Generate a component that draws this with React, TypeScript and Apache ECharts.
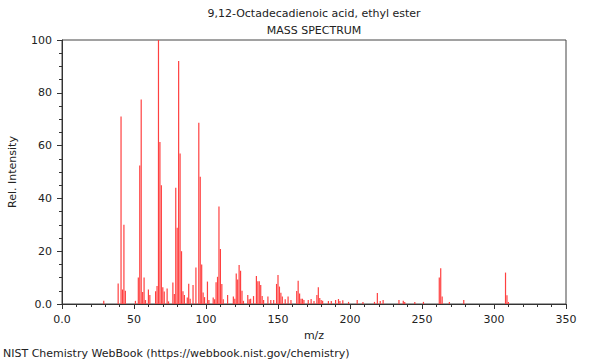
import React, { useEffect, useRef } from "react";
import * as echarts from "echarts";

const titleText = "9,12-Octadecadienoic acid, ethyl ester";
const subTitleText = "MASS SPECTRUM";
const footerText = "NIST Chemistry WebBook (https://webbook.nist.gov/chemistry)";

const mzValues = [
  29, 39, 41, 42, 43, 44, 51, 53, 54, 55, 56, 57, 58, 60, 61, 65, 66, 67, 68, 69,
  70, 71, 73, 74, 77, 78, 79, 80, 81, 82, 83, 84, 85, 87, 88, 89, 91, 93, 95, 96,
  97, 98, 99, 101, 102, 105, 106, 107, 108, 109, 110, 111, 112, 115, 119, 120, 121, 122, 123, 124,
  125, 126, 129, 130, 131, 133, 135, 136, 137, 138, 139, 140, 143, 145, 147, 149, 150, 151, 152, 153,
  155, 157, 159, 163, 164, 165, 166, 167, 168, 171, 173, 175, 177, 178, 179, 180, 181, 185, 187, 190,
  192, 193, 195, 199, 205, 209, 217, 219, 221, 223, 234, 237, 238, 245, 251, 262, 263, 264, 269, 279,
  308, 309, 310,
];
const intensities = [
  1.2, 7.8, 71, 5.5, 30, 5, 1.2, 10, 52.5, 77.5, 4.5, 10, 1.5, 5.5, 3.4, 4.8, 6.8, 100, 61.4, 45,
  6.3, 4.7, 5.9, 1, 8.1, 3.8, 44, 28.9, 92, 57, 20, 4.8, 3.4, 2.5, 7.7, 2, 7.2, 13.8, 68.7, 48.2,
  15, 4.4, 2.6, 8.5, 1.5, 2.5, 1.8, 8.2, 10.3, 36.9, 20.8, 7.6, 1.8, 3.4, 2.8, 2, 11.6, 9.3, 14.8, 12.6,
  5, 1.2, 3.4, 1.8, 2, 3, 10.6, 8.6, 8.6, 7.2, 3, 1.5, 2.8, 1.5, 1.5, 7.6, 11, 6.6, 4.3, 2.8,
  1.8, 2.8, 1.5, 4.9, 8.8, 4, 2, 2, 1.5, 1.5, 1.9, 1.1, 3.4, 6.3, 2.3, 1.5, 1.2, 1.1, 1.1, 1.5,
  1.9, 1.1, 1.4, 0.8, 1.5, 0.8, 0.8, 4.2, 1.1, 1.5, 1.5, 1.2, 0.8, 0.8, 0.8, 10, 13.5, 2.8, 0.8, 1.5,
  11.9, 3.3, 0.8,
];

const FONT = "DejaVu Sans";
const BAR_COLOR = "#ff4040";

export default function App() {
  const ref = useRef<HTMLDivElement>(null);
  useEffect(() => {
    if (!ref.current) return;
    const chart = echarts.init(ref.current, null, { renderer: "svg" });
    const data = mzValues.map((m, i) => [m, intensities[i]]);
    const axisColor = "#333";
    chart.setOption({
      animation: false,
      textStyle: { fontFamily: FONT },
      grid: {
        left: 62,
        right: 34,
        top: 40,
        bottom: 56,
        show: true,
        borderColor: "#444",
        borderWidth: 1,
        backgroundColor: "transparent",
        containLabel: false,
        outerBoundsMode: "none",
      },
      xAxis: {
        type: "value",
        min: 0,
        max: 350,
        interval: 50,
        name: "m/z",
        nameLocation: "middle",
        nameGap: 26,
        nameTextStyle: { fontFamily: FONT, fontSize: 11, color: "#222" },
        axisLine: { show: true, lineStyle: { color: axisColor } },
        axisTick: { show: true, length: 5, lineStyle: { color: axisColor } },
        minorTick: { show: true, splitNumber: 5, length: 3, lineStyle: { color: axisColor } },
        splitLine: { show: false },
        axisLabel: {
          fontFamily: FONT,
          fontSize: 11,
          color: "#222",
          margin: 10,
          formatter: (v: number) => (v === 0 ? "0.0" : String(v)),
        },
      },
      yAxis: {
        type: "value",
        min: 0,
        max: 100,
        interval: 20,
        name: "Rel. Intensity",
        nameLocation: "middle",
        nameGap: 44,
        nameRotate: 90,
        nameTextStyle: { fontFamily: FONT, fontSize: 11, color: "#222" },
        axisLine: { show: true, lineStyle: { color: axisColor } },
        axisTick: { show: true, length: 5, lineStyle: { color: axisColor } },
        minorTick: { show: true, splitNumber: 4, length: 3, lineStyle: { color: axisColor } },
        splitLine: { show: false },
        axisLabel: {
          fontFamily: FONT,
          fontSize: 11,
          color: "#222",
          margin: 10,
          formatter: (v: number) => (v === 0 ? "0.0" : String(v)),
        },
      },
      series: [
        {
          type: "custom",
          data,
          silent: true,
          renderItem: (params: any, api: any) => {
            const x = api.value(0);
            const y = api.value(1);
            const base = api.coord([x, 0]);
            const top = api.coord([x, y]);
            return {
              type: "rect",
              shape: { x: base[0] - 0.6, y: top[1], width: 1.2, height: base[1] - top[1] },
              style: { fill: BAR_COLOR },
            };
          },
        },
      ],
      graphic: [
        {
          type: "text",
          x: 314,
          y: 13.5,
          style: {
            text: titleText,
            fontFamily: FONT,
            fontSize: 11,
            fill: "#222",
            align: "center",
            verticalAlign: "middle",
          },
        },
        {
          type: "text",
          x: 314,
          y: 30,
          style: {
            text: subTitleText,
            fontFamily: FONT,
            fontSize: 11,
            fill: "#222",
            align: "center",
            verticalAlign: "middle",
          },
        },
        {
          type: "text",
          x: 3,
          y: 353,
          style: {
            text: footerText,
            fontFamily: FONT,
            fontSize: 11,
            fill: "#222",
            align: "left",
            verticalAlign: "middle",
          },
        },
      ],
    });
    return () => chart.dispose();
  }, []);
  return <div ref={ref} style={{ width: 600, height: 360, position: "absolute", left: 0, top: 0 }} />;
}
